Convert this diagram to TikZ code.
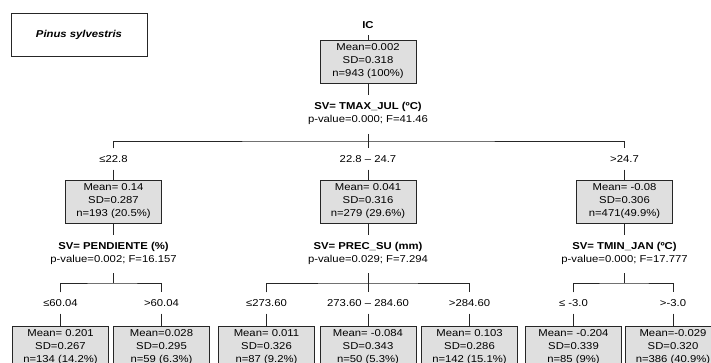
\documentclass[tikz,border=0pt]{standalone}
\usepackage{fontspec}
\setmainfont[FakeStretch=1.13]{Liberation Sans}
\begin{document}
\begin{tikzpicture}[x=1pt,y=-1pt,
  every node/.style={font=\fontsize{10}{13}\selectfont},
  statbox/.style={draw=black!85,line width=0.9pt,fill=gray!25,rectangle,
    minimum width=96pt,minimum height=43pt,inner sep=0pt,align=center},
  lbl/.style={inner sep=0pt,outer sep=7pt,text height=7.2pt,text depth=0pt},
  svl/.style={lbl,font=\fontsize{10}{13}\selectfont\bfseries},
  conn/.style={draw=black!85,line width=0.9pt}
]
\useasboundingbox (0,0) rectangle (711,363);
\clip (0,0) rectangle (711,363);
\fill[white] (0,0) rectangle (711,363);

% title box
\node[draw=black!85,line width=0.9pt,minimum width=136pt,minimum height=43pt,
  font=\fontsize{10}{13}\selectfont\bfseries\itshape] (title) at (79,34.5) {Pinus sylvestris};

% root
\node[svl] (ic) at (368,24.5) {IC};
\node[statbox] (r) at (368,61.5) {Mean=0.002\\SD=0.318\\n=943 (100\%)};
\node[svl] (sv0) at (368,106) {SV= TMAX\_JUL (ºC)};
\node[lbl] (p0) at (368,118.5) {p-value=0.000; F=41.46};
\coordinate (t0) at (368,134);
\coordinate (j0) at (368,141);

% level 1 labels and boxes
\node[lbl] (la) at (113.5,159) {≤22.8};
\node[lbl] (lb) at (368,159) {22.8 – 24.7};
\node[lbl] (lc) at (624.5,159) {>24.7};
\node[statbox] (a) at (113.5,201.5) {Mean= 0.14\\SD=0.287\\n=193 (20.5\%)};
\node[statbox] (b) at (368,201.5) {Mean= 0.041\\SD=0.316\\n=279 (29.6\%)};
\node[statbox] (c) at (624.5,201.5) {Mean= -0.08\\SD=0.306\\n=471(49.9\%)};

\draw[conn] (ic.south) -- (r.north);
\draw[conn] (r.south) -- (sv0.north);
\draw[conn] (la.north) |- (j0) -| (lc.north);
\draw[conn] (t0) -- (lb.north);
\draw[conn] (la.south) -- (a.north);
\draw[conn] (lb.south) -- (b.north);
\draw[conn] (lc.south) -- (c.north);

% split labels level 1
\node[svl] (sva) at (113.5,246) {SV= PENDIENTE (\%)};
\node[lbl] (pa) at (113.5,258.5) {p-value=0.002; F=16.157};
\node[svl] (svb) at (368,246) {SV= PREC\_SU (mm)};
\node[lbl] (pb) at (368,258.5) {p-value=0.029; F=7.294};
\node[svl] (svc) at (624.5,246) {SV= TMIN\_JAN (ºC)};
\node[lbl] (pc) at (624.5,258.5) {p-value=0.000; F=17.777};
\draw[conn] (a.south) -- (sva.north);
\draw[conn] (b.south) -- (svb.north);
\draw[conn] (c.south) -- (svc.north);

\coordinate (ta) at (113.5,273);
\coordinate (ja) at (113.5,283);
\coordinate (tb) at (368,273);
\coordinate (jb) at (368,283);
\coordinate (tc) at (624.5,273);
\coordinate (jc) at (624.5,283);

% leaf labels
\node[lbl] (l1) at (60.5,303) {≤60.04};
\node[lbl] (l2) at (161.5,303) {>60.04};
\node[lbl] (l3) at (266.5,303) {≤273.60};
\node[lbl] (l4) at (368,303) {273.60 – 284.60};
\node[lbl] (l5) at (469.5,303) {>284.60};
\node[lbl] (l6) at (573.5,303) {≤ -3.0};
\node[lbl] (l7) at (673,303) {>-3.0};

% leaves
\node[statbox] (n1) at (60.5,347.5) {Mean= 0.201\\SD=0.267\\n=134 (14.2\%)};
\node[statbox] (n2) at (161.5,347.5) {Mean=0.028\\SD=0.295\\n=59 (6.3\%)};
\node[statbox] (n3) at (266.5,347.5) {Mean= 0.011\\SD=0.326\\n=87 (9.2\%)};
\node[statbox] (n4) at (368,347.5) {Mean= -0.084\\SD=0.343\\n=50 (5.3\%)};
\node[statbox] (n5) at (469.5,347.5) {Mean= 0.103\\SD=0.286\\n=142 (15.1\%)};
\node[statbox] (n6) at (573.5,347.5) {Mean= -0.204\\SD=0.339\\n=85 (9\%)};
\node[statbox] (n7) at (673,347.5) {Mean=-0.029\\SD=0.320\\n=386 (40.9\%)};

% connectors level 2
\draw[conn] (ta) -- (ja);
\draw[conn] (l1.north) |- (ja) -| (l2.north);
\draw[conn] (tb) -- (l4.north);
\draw[conn] (l3.north) |- (jb) -| (l5.north);
\draw[conn] (tc) -- (jc);
\draw[conn] (l6.north) |- (jc) -| (l7.north);
\foreach \i/\j in {l1/n1,l2/n2,l3/n3,l4/n4,l5/n5,l6/n6,l7/n7}
  \draw[conn] (\i.south) -- (\j.north);
\end{tikzpicture}
\end{document}
